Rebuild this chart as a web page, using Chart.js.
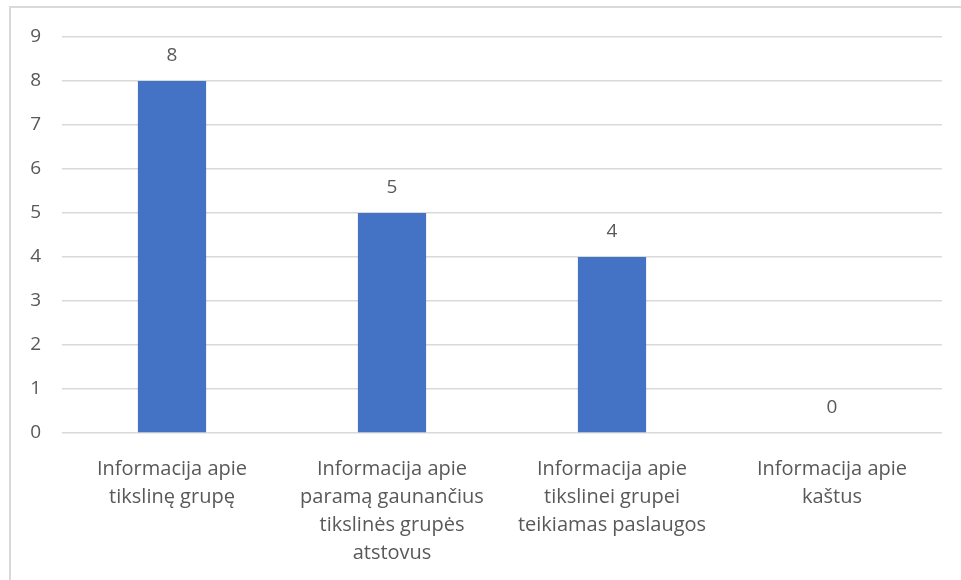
<!DOCTYPE html>
<html>
<head>
<meta charset="utf-8">
<script src="https://cdn.jsdelivr.net/npm/chart.js@4/dist/chart.umd.min.js"></script>
<style>
  html, body { margin: 0; padding: 0; background: #fff; overflow: hidden; }
  #frame { position: absolute; left: 9px; top: 6px; width: 1000px; height: 700px; border: 2px solid #d9d9d9; box-sizing: border-box; }
  #wrap { position: absolute; left: 0; top: 0; width: 961px; height: 580px; }
</style>
</head>
<body>
<div id="frame"></div>
<div id="wrap"><canvas id="canvas1" width="961" height="580"></canvas></div>
<script>
var categories = [
    ["Informacija apie", "tikslinę grupę"],
    ["Informacija apie", "paramą gaunančius", "tikslinės grupės", "atstovus"],
    ["Informacija apie", "tikslinei grupei", "teikiamas paslaugos"],
    ["Informacija apie", "kaštus"]
];
var values = [8, 5, 4, 0];
var yTicks = [0, 1, 2, 3, 4, 5, 6, 7, 8, 9];

var textColor = "#595959";
var fontFamily = "'Open Sans', 'Noto Sans', sans-serif";

// value labels over each bar
var valueLabels = {
    id: 'valueLabels',
    afterDatasetsDraw: function(chart) {
        var ctx = chart.ctx;
        var meta = chart.getDatasetMeta(0);
        ctx.save();
        ctx.fillStyle = textColor;
        ctx.font = "19px " + fontFamily;
        ctx.textAlign = "center";
        ctx.textBaseline = "middle";
        meta.data.forEach(function(bar, i) {
            ctx.fillText(values[i], bar.x, bar.y - 25);
        });
        ctx.restore();
    }
};

new Chart(document.getElementById("canvas1"), {
    type: 'bar',
    data: {
        labels: categories,
        datasets: [{
            data: values,
            backgroundColor: "#4472c4",
            barPercentage: 0.31,
            categoryPercentage: 1
        }]
    },
    options: {
        responsive: false,
        animation: false,
        layout: { padding: { top: 37, right: 19, left: 0, bottom: 0 } },
        plugins: {
            legend: { display: false },
            tooltip: { enabled: false }
        },
        scales: {
            x: {
                grid: { display: false },
                border: { display: false },
                ticks: {
                    color: textColor,
                    font: { family: fontFamily, size: 20, lineHeight: 1.4 },
                    padding: 14,
                    maxRotation: 0,
                    autoSkip: false
                },
                afterFit: function(scale) { scale.height = 147; }
            },
            y: {
                min: 0,
                max: 9,
                afterBuildTicks: function(scale) {
                    scale.ticks = yTicks.map(function(v) { return { value: v }; });
                },
                grid: { color: "#d9d9d9", lineWidth: 1.5, drawTicks: false },
                border: { display: false },
                ticks: {
                    color: textColor,
                    font: { family: fontFamily, size: 19 },
                    padding: 21
                },
                afterFit: function(scale) { scale.width = 62; }
            }
        }
    },
    plugins: [valueLabels]
});
</script>
</body>
</html>
